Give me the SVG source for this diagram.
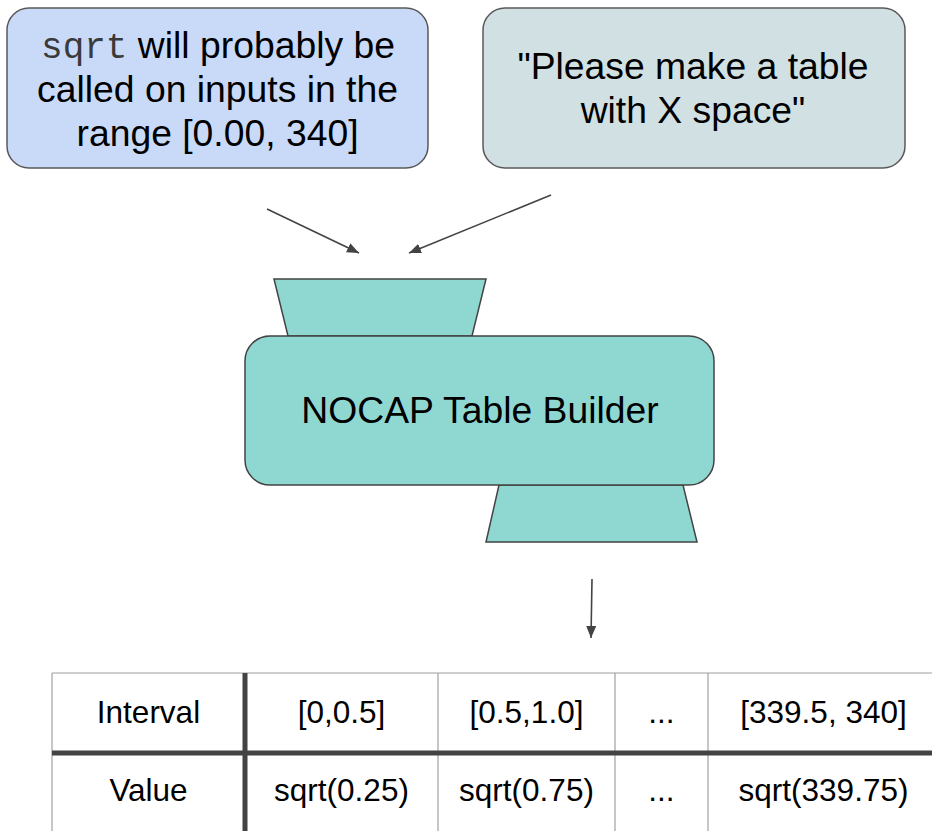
<svg xmlns="http://www.w3.org/2000/svg" width="932" height="831" viewBox="0 0 932 831">
  <style>
    .t { font-family: "Liberation Sans", Arial, sans-serif; font-size: 37.3px; fill: #000; text-anchor: middle; }
    .mono { font-family: "Liberation Mono", "Courier New", monospace; fill: #3a3a3a; font-size: 36px; }
    .cell { font-family: "Liberation Sans", Arial, sans-serif; font-size: 31.5px; fill: #000; text-anchor: middle; }
    .box { stroke: #595959; stroke-width: 1.5; }
    .teal { fill: #8fd8d2; stroke: #434343; stroke-width: 1.5; }
    .conn { stroke: #434343; stroke-width: 1.6; fill: none; }
    .thin { stroke: #a0a0a0; stroke-width: 1.2; }
    .thick { stroke: #434343; stroke-width: 5; }
  </style>
  <defs>
    <marker id="ah" viewBox="0 0 12 10" refX="12" refY="5" markerWidth="12" markerHeight="10" markerUnits="userSpaceOnUse" orient="auto">
      <path d="M0,0 L12,5 L0,10 z" fill="#434343"/>
    </marker>
  </defs>

  <g id="node-range">
    <rect class="box" x="7" y="8" width="421" height="160" rx="22" fill="#c9daf8"/>
    <text class="t" x="218" y="57.5"><tspan class="mono">sqrt</tspan> will probably be</text>
    <text class="t" x="217.5" y="101.5">called on inputs in the</text>
    <text class="t" x="217.5" y="145.5">range [0.00, 340]</text>
  </g>

  <g id="node-space">
    <rect class="box" x="483" y="8" width="422" height="160" rx="22" fill="#d0e0e3"/>
    <text class="t" x="693" y="79">"Please make a table</text>
    <text class="t" x="693" y="123">with X space"</text>
  </g>

  <g id="node-builder">
    <polygon class="teal" points="274,279 486,279 472,336 288,336"/>
    <polygon class="teal" points="499,485 683,485 697,542 486,542"/>
    <rect class="teal" x="245" y="336" width="469" height="149" rx="25"/>
    <text class="t" x="480" y="423">NOCAP Table Builder</text>
  </g>

  <g id="connectors">
    <line class="conn" x1="267" y1="209" x2="359" y2="253" marker-end="url(#ah)"/>
    <line class="conn" x1="551" y1="195" x2="409" y2="253" marker-end="url(#ah)"/>
    <line class="conn" x1="592" y1="579" x2="591" y2="638" marker-end="url(#ah)"/>
  </g>

  <g id="table">
    <line class="thin" x1="52" y1="673" x2="932" y2="673"/>
    <line class="thin" x1="52" y1="673" x2="52" y2="831"/>
    <line class="thin" x1="438" y1="673" x2="438" y2="831"/>
    <line class="thin" x1="615" y1="673" x2="615" y2="831"/>
    <line class="thin" x1="708" y1="673" x2="708" y2="831"/>
    <line class="thick" x1="52" y1="753" x2="932" y2="753"/>
    <line class="thick" x1="245" y1="673" x2="245" y2="831"/>
    <text class="cell" x="148.5" y="723">Interval</text>
    <text class="cell" x="341.5" y="723">[0,0.5]</text>
    <text class="cell" x="526.5" y="723">[0.5,1.0]</text>
    <text class="cell" x="661.5" y="723">...</text>
    <text class="cell" x="823.5" y="723">[339.5, 340]</text>
    <text class="cell" x="148.5" y="801">Value</text>
    <text class="cell" x="341.5" y="801">sqrt(0.25)</text>
    <text class="cell" x="526.5" y="801">sqrt(0.75)</text>
    <text class="cell" x="661.5" y="801">...</text>
    <text class="cell" x="823.5" y="801">sqrt(339.75)</text>
  </g>
</svg>
